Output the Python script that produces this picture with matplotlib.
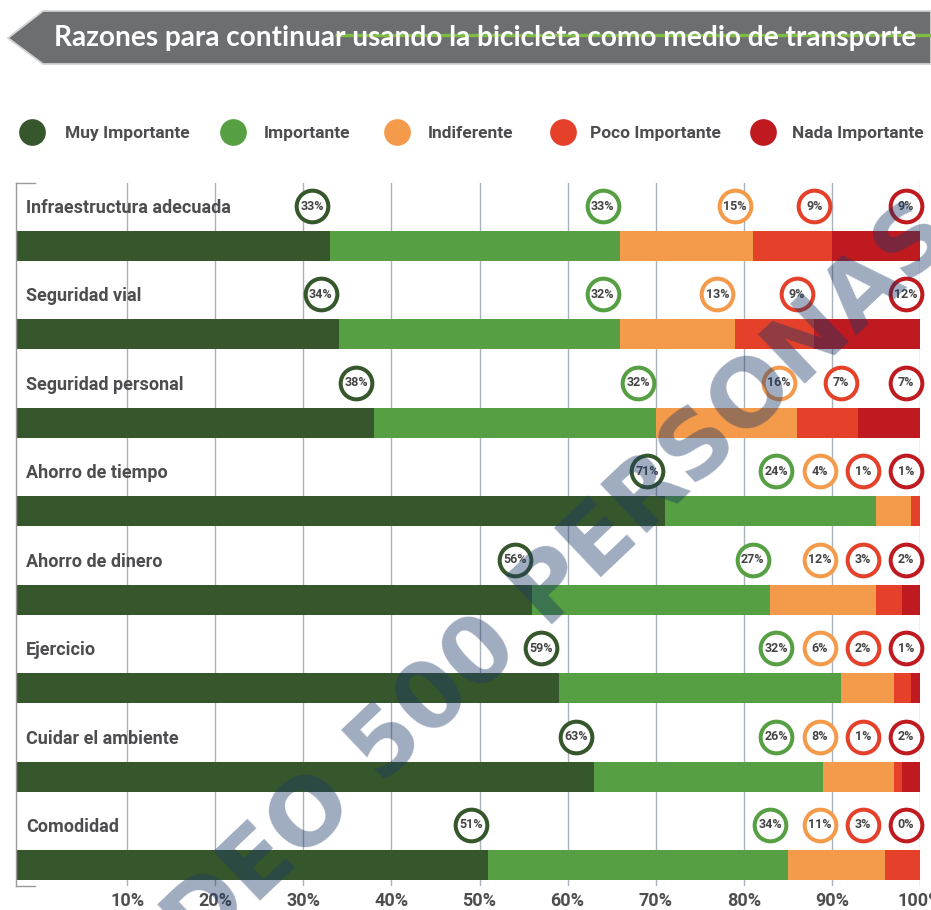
import matplotlib
matplotlib.use("Agg")
import matplotlib.pyplot as plt
from matplotlib import font_manager as fm
from matplotlib.patches import Polygon
import numpy as np

# ---------------- data ----------------
categories = ["Infraestructura adecuada", "Seguridad vial", "Seguridad personal",
              "Ahorro de tiempo", "Ahorro de dinero", "Ejercicio",
              "Cuidar el ambiente", "Comodidad"]
muy_importante = [33, 34, 38, 71, 56, 59, 63, 51]
importante = [33, 32, 32, 24, 27, 32, 26, 34]
indiferente = [15, 13, 16, 4, 12, 6, 8, 11]
poco_importante = [9, 9, 7, 1, 3, 2, 1, 3]
nada_importante = [9, 12, 7, 1, 2, 1, 2, 0]
series_names = ["Muy Importante", "Importante", "Indiferente",
                "Poco Importante", "Nada Importante"]
tick_values = [10, 20, 30, 40, 50, 60, 70, 80, 90, 100]
tick_labels = ["10%", "20%", "30%", "40%", "50%", "60%", "70%", "80%", "90%", "100%"]
title = "Razones para continuar usando la bicicleta como medio de transporte"
watermark = "SONDEO 500 PERSONAS"

# ---------------- style ----------------
colors = ["#36572b", "#569f42", "#f39a4b", "#e4402a", "#bf1a1f"]
TXT = "#4d4d4f"
names = {f.name for f in fm.fontManager.ttflist}
NARROW = "Liberation Sans Narrow" if "Liberation Sans Narrow" in names else "Roboto"
TITLEF = "Lato" if "Lato" in names else "DejaVu Sans"

W, H = 931, 910
fig = plt.figure(figsize=(W / 100, H / 100), dpi=100)

# main axes (pixel layout: x 16..920, y 183..886)
px_per = 8.81
xmin = -(39 - 16) / px_per
ax = fig.add_axes([16 / W, (H - 886) / H, 904 / W, (886 - 183) / H])
ax.set_xlim(xmin, 100)
ax.set_ylim(7.238, -0.713)

data = np.array([muy_importante, importante, indiferente, poco_importante, nada_importante], float)
cum = np.cumsum(data, axis=0)
lefts = cum - data
ys = np.arange(len(categories))
bar_h = 30 / 88.4
circ_dy = 40 / 88.4

# segment right edges: last non-empty segment of each row fills to the axis end
rights = cum.copy()
for i in range(len(categories)):
    last = max(k for k in range(5) if data[k][i] > 0)
    rights[last][i] = max(rights[last][i], 100)

for k in range(5):
    left = lefts[k].copy()
    if k == 0:
        left[:] = xmin
    ax.barh(ys, rights[k] - left, left=left, height=bar_h, color=colors[k],
            linewidth=0, zorder=2)

# circle label positions (packed from the right)
pos = np.zeros_like(cum)
pos[4] = 98.4
for k in range(3, -1, -1):
    pos[k] = np.minimum(cum[k] - 2.0, pos[k + 1] - 4.9)

for k in range(5):
    ax.scatter(pos[k], ys - circ_dy, s=520, facecolor="white", edgecolor=colors[k],
               linewidth=2.9, zorder=3, clip_on=False)
    for i in range(len(categories)):
        ax.text(pos[k][i], ys[i] - circ_dy, f"{int(data[k][i])}%", ha="center",
                va="center", fontsize=9, fontweight="bold", family=NARROW,
                color="#444444", zorder=4, clip_on=False)

for i, cat in enumerate(categories):
    ax.annotate(cat, xy=(0, ys[i] - circ_dy), xycoords=("axes fraction", "data"),
                xytext=(10, 0), textcoords="offset pixels", ha="left",
                va="center_baseline", fontsize=13, fontweight="bold", family=NARROW,
                color=TXT)

ax.set_xticks(tick_values)
ax.set_xticklabels(tick_labels, fontsize=13, fontweight="bold", family=NARROW, color=TXT)
ax.tick_params(axis="x", length=0, pad=4)
ax.set_yticks([])
ax.grid(axis="x", color="#a9b1ba", linewidth=1.0)
ax.set_axisbelow(True)
for s in ["top", "right", "bottom"]:
    ax.spines[s].set_visible(False)
ax.spines["left"].set_color("#9a9a9a")
ax.spines["left"].set_linewidth(1.0)
ax.plot([0, 0.021], [1, 1], transform=ax.transAxes, color="#9a9a9a", lw=1.0, clip_on=False)
ax.plot([0, 0.021], [0, 0], transform=ax.transAxes, color="#9a9a9a", lw=1.0, clip_on=False)
ax.set_facecolor("none")

# ---------------- decoration overlay ----------------
deco = fig.add_axes([0, 0, 1, 1], zorder=5)
deco.set_xlim(0, W)
deco.set_ylim(H, 0)
deco.axis("off")

banner = Polygon([(8, 38), (43, 11), (W, 11), (W, 64), (43, 64)], closed=True,
                 facecolor="#6d6e70", edgecolor="#d2d2d2", linewidth=1.3, zorder=1)
deco.add_patch(banner)
deco.plot([335, W], [35, 35], color="#7dbb42", lw=2.4, zorder=2, solid_capstyle="butt")
t = deco.text(54, 38, title, ha="left", va="center", color="white",
              fontsize=20, fontweight="bold", family=TITLEF, zorder=3)
r = fig.canvas.get_renderer()
bb = t.get_window_extent(r)
t.set_fontsize(20 * 864 / bb.width)

leg_x = [32, 233, 397, 563, 763]
leg_tx = [65, 264, 428, 590, 792]
for k in range(5):
    deco.scatter([leg_x[k]], [132], s=370, color=colors[k], linewidth=0, zorder=2)
    deco.text(leg_tx[k], 132, series_names[k], ha="left", va="center_baseline",
              fontsize=12.5, fontweight="bold", family=NARROW, color=TXT)

deco.text(479, 658, watermark, rotation=43.5, rotation_mode="anchor", ha="center",
          va="center", fontsize=67, fontweight="bold", family="DejaVu Sans",
          color="#1b3866", alpha=0.42, zorder=10)

fig.savefig("out.png", dpi=100)
